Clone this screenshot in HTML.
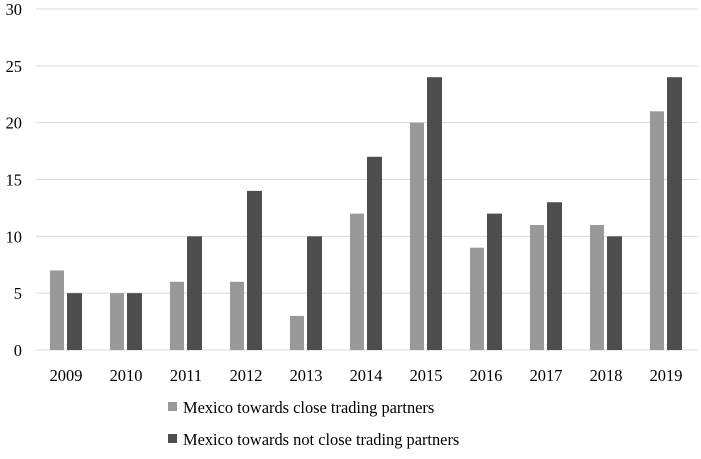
<!DOCTYPE html>
<html><head><meta charset="utf-8"><style>
body{margin:0;background:#fff;}
svg text{font-family:"Liberation Serif",serif;font-size:16.4px;fill:#000;}
</style></head><body>
<svg width="701" height="454" id="c"></svg>
<script>
const categories=["2009","2010","2011","2012","2013","2014","2015","2016","2017","2018","2019"];
const closeValues=[7,5,6,6,3,12,20,9,11,11,21];
const notCloseValues=[5,5,10,14,10,17,24,12,13,10,24];
const yTicks=[0,5,10,15,20,25,30];
const seriesNames=["Mexico towards close trading partners","Mexico towards not close trading partners"];
const NS="http://www.w3.org/2000/svg";
const svg=document.getElementById('c');
const x0=36,band=60,y0=350,yTop=9,yMax=30;
const y=v=>y0-(v/yMax)*(y0-yTop);
const xc=i=>x0+band*i+band/2;
function mk(t,a){const e=document.createElementNS(NS,t);for(const k in a)e.setAttribute(k,a[k]);svg.appendChild(e);return e;}
yTicks.forEach(t=>{
 const l=mk('line',{x1:x0,x2:698,y1:y(t),y2:y(t),stroke:'#d9d9d9','stroke-width':1});
 
 
 const tx=mk('text',{x:22,y:y(t)+6,'text-anchor':'end'});tx.textContent=t;
 
 
});
categories.forEach((c,i)=>{
 const b1=mk('rect',{x:xc(i)-16,y:y(closeValues[i]),width:14,height:y0-y(closeValues[i]),fill:'#999999'});
 
 
 const b2=mk('rect',{x:xc(i)+1,y:y(notCloseValues[i]),width:15,height:y0-y(notCloseValues[i]),fill:'#4d4d4d'});
 
 
 const tx=mk('text',{x:xc(i),y:381,'text-anchor':'middle'});tx.textContent=c;
 
 
});
const cols=['#999999','#4d4d4d'];
seriesNames.forEach((n,i)=>{
 const yy=413+i*32;
 const r=mk('rect',{x:168,y:yy-11,width:9,height:9,fill:cols[i]});
 
 
 const t=mk('text',{x:183,y:yy});t.textContent=n;
 
 
});
</script>
</body></html>
